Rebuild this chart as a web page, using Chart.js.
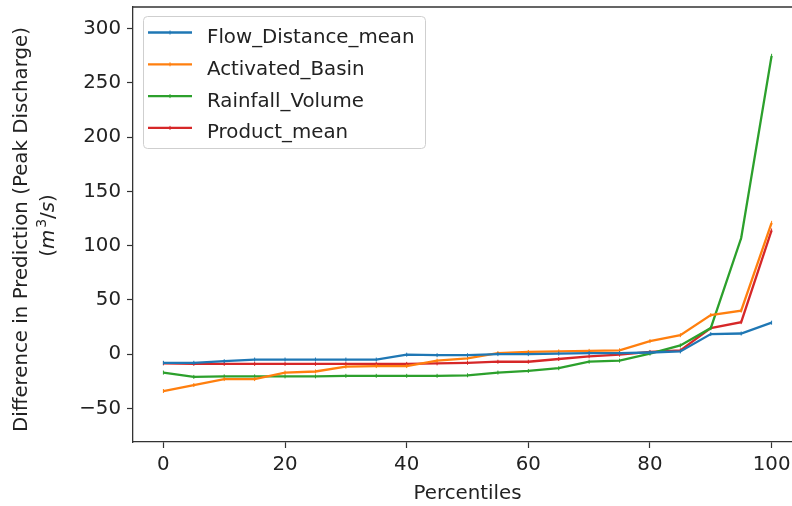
<!DOCTYPE html>
<html>
<head>
<meta charset="utf-8">
<script src="https://cdn.jsdelivr.net/npm/chart.js@4.4.1/dist/chart.umd.min.js"></script>
<style>
    html, body { margin: 0; padding: 0; background: #fff; overflow: hidden; }
    #wrap { width: 807px; height: 506px; }
</style>
</head>
<body>
<div id="wrap"><canvas id="sensitivityChart" width="807" height="506"></canvas></div>
<script>
// Percentile positions along the x axis
const percentiles = [0, 5, 10, 15, 20, 25, 30, 35, 40, 45, 50, 55, 60, 65, 70, 75, 80, 85, 90, 95, 100];

// Difference in predicted peak discharge (m3/s) per feature
const flowDistanceMean = [-8, -8, -6.5, -5, -5, -5, -5, -5, -0.5, -1, -1, 0, 0, 0.5, 1, 1, 1.5, 2.5, 18.5, 19, 29];
const activatedBasin = [-34, -28.5, -23, -23, -17, -16, -11.5, -11, -11, -6, -4, 1, 2, 2.5, 3, 3.5, 12, 17.5, 36, 40, 121];
const rainfallVolume = [-17, -21, -20.5, -20.5, -20.5, -20.5, -20, -20, -20, -20, -19.5, -17, -15.5, -13, -7, -6, 0.5, 8, 24, 107, 275];
const productMean = [-8.5, -9, -9, -9, -9, -9, -9, -9, -9, -8.5, -8, -7, -7, -4.5, -2, -0.5, 2, 3.5, 24, 29.5, 114];

const seriesNames = ['Flow_Distance_mean', 'Activated_Basin', 'Rainfall_Volume', 'Product_mean'];
const seriesColors = ['#1f77b4', '#ff7f0e', '#2ca02c', '#d62728'];

const xTicks = [0, 20, 40, 60, 80, 100];
const yTicks = [-50, 0, 50, 100, 150, 200, 250, 300];

const FONT = 'DejaVu Sans';
const SIZE = 19.8;
const TEXT = '#222';
const AXIS = '#333';

function toPoints(values) {
    return values.map((v, i) => ({ x: percentiles[i], y: v }));
}

// Top/right spines plus the two-line y axis title
const framePlugin = {
    id: 'frame',
    afterDraw(chart) {
        const { ctx, chartArea } = chart;
        ctx.save();
        ctx.strokeStyle = AXIS;
        ctx.lineWidth = 1.3;
        ctx.beginPath();
        ctx.moveTo(chartArea.left, chartArea.top);
        ctx.lineTo(chartArea.right, chartArea.top);
        ctx.lineTo(chartArea.right, chartArea.bottom);
        ctx.stroke();

        const cy = (chartArea.top + chartArea.bottom) / 2;
        ctx.fillStyle = TEXT;
        ctx.textBaseline = 'middle';

        ctx.save();
        ctx.translate(22, cy + 5);
        ctx.rotate(-Math.PI / 2);
        ctx.font = `${SIZE}px "${FONT}"`;
        ctx.textAlign = 'center';
        ctx.fillText('Difference in Prediction (Peak Discharge)', 0, 0);
        ctx.restore();

        // (m^3/s) with italic symbols
        const parts = [
            { t: '(', f: `${SIZE}px "${FONT}"`, dy: 0 },
            { t: 'm', f: `italic ${SIZE}px "${FONT}"`, dy: 0 },
            { t: '3', f: `14px "${FONT}"`, dy: -7 },
            { t: '/', f: `${SIZE}px "${FONT}"`, dy: 0 },
            { t: 's', f: `italic ${SIZE}px "${FONT}"`, dy: 0 },
            { t: ')', f: `${SIZE}px "${FONT}"`, dy: 0 }
        ];
        let total = 0;
        parts.forEach(p => { ctx.font = p.f; p.w = ctx.measureText(p.t).width + (p.t === '3' ? 2 : 0); total += p.w; });
        ctx.save();
        ctx.translate(49, cy + 1);
        ctx.rotate(-Math.PI / 2);
        ctx.textAlign = 'left';
        let x = -total / 2;
        parts.forEach(p => {
            ctx.font = p.f;
            ctx.fillText(p.t, x + (p.t === '3' ? 2 : 0), p.dy);
            x += p.w;
        });
        ctx.restore();
        ctx.restore();
    }
};

// Legend box in the upper-left of the plot area
const legendBoxPlugin = {
    id: 'legendBox',
    afterDatasetsDraw(chart) {
        const { ctx } = chart;
        const left = 143, top = 16, width = 282, height = 132;
        ctx.save();
        ctx.fillStyle = 'rgba(255,255,255,0.8)';
        ctx.strokeStyle = '#cfcfcf';
        ctx.lineWidth = 1;
        ctx.beginPath();
        ctx.roundRect(left + 0.5, top + 0.5, width, height, 4);
        ctx.fill();
        ctx.stroke();

        ctx.font = `${SIZE}px "${FONT}"`;
        ctx.textBaseline = 'alphabetic';
        ctx.textAlign = 'left';
        chart.data.datasets.forEach((ds, i) => {
            const y = 32.5 + i * 31.8;
            ctx.strokeStyle = ds.borderColor;
            ctx.lineWidth = ds.borderWidth;
            ctx.beginPath();
            ctx.moveTo(148, y);
            ctx.lineTo(192, y);
            ctx.stroke();
            ctx.lineWidth = 1;
            ctx.beginPath();
            ctx.moveTo(170, y - 2);
            ctx.lineTo(170, y + 2);
            ctx.stroke();
            ctx.fillStyle = TEXT;
            ctx.fillText(ds.label, 207, y + 10.5);
        });
        ctx.restore();
    }
};

const seriesValues = [flowDistanceMean, activatedBasin, rainfallVolume, productMean];

const chart = new Chart(document.getElementById('sensitivityChart'), {
    type: 'line',
    data: {
        datasets: seriesValues.map((values, i) => ({
            label: seriesNames[i],
            data: toPoints(values),
            borderColor: seriesColors[i],
            backgroundColor: seriesColors[i],
            borderWidth: 2.3,
            pointStyle: 'line',
            rotation: 90,
            pointRadius: 2,
            pointBorderWidth: 1,
            tension: 0,
            fill: false
        }))
    },
    options: {
        responsive: false,
        animation: false,
        devicePixelRatio: 1,
        layout: { padding: { top: 7, right: 2, left: 0, bottom: 0 } },
        plugins: {
            legend: { display: false },
            tooltip: { enabled: false }
        },
        scales: {
            x: {
                type: 'linear',
                min: -5,
                max: 105,
                afterFit(scale) {
                    scale.height = 64;
                    scale.paddingLeft = 0;
                    scale.paddingRight = 0;
                },
                afterBuildTicks(scale) { scale.ticks = xTicks.map(v => ({ value: v })); },
                border: { display: true, color: AXIS, width: 1.3 },
                grid: { drawOnChartArea: false, drawTicks: true, tickLength: 6, tickColor: AXIS, tickWidth: 1.2 },
                ticks: { color: TEXT, padding: 5, maxRotation: 0, font: { family: FONT, size: SIZE } },
                title: {
                    display: true,
                    text: 'Percentiles',
                    color: TEXT,
                    padding: { top: 0, bottom: 0 },
                    font: { family: FONT, size: SIZE }
                }
            },
            y: {
                min: -81,
                max: 320,
                afterFit(scale) {
                    scale.width = 133;
                    scale.paddingTop = 0;
                    scale.paddingBottom = 0;
                },
                afterBuildTicks(scale) { scale.ticks = yTicks.map(v => ({ value: v })); },
                border: { display: true, color: AXIS, width: 1.3 },
                grid: { drawOnChartArea: false, drawTicks: true, tickLength: 6, tickColor: AXIS, tickWidth: 1.2 },
                ticks: {
                    color: TEXT,
                    padding: 6,
                    font: { family: FONT, size: SIZE },
                    callback: v => String(v).replace('-', '\u2212')
                }
            }
        }
    },
    plugins: [framePlugin, legendBoxPlugin]
});
</script>
</body>
</html>
